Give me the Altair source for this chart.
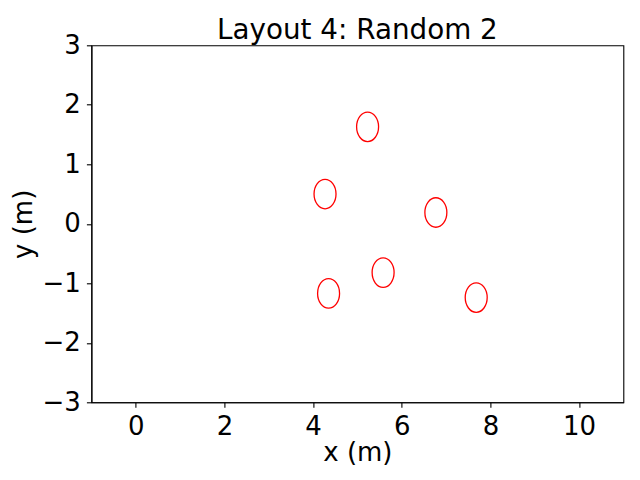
import altair as alt
import pandas as pd

# Turbine / object centers (m)
x_vals = [5.23, 4.27, 6.77, 5.58, 4.35, 7.68]
y_vals = [1.63, 0.50, 0.19, -0.82, -1.17, -1.24]

x_ticks = [0, 2, 4, 6, 8, 10]
y_ticks = [-3, -2, -1, 0, 1, 2, 3]

df = pd.DataFrame({"x": x_vals, "y": y_vals})

FONT = "DejaVu Sans"

# ellipse outline (circle of radius 0.25 m in data units, aspect of axes)
ellipse = "M 0.745 0 A 0.745 1 0 1 1 -0.745 0 A 0.745 1 0 1 1 0.745 0 Z"

chart = alt.Chart(df).mark_point(
    shape=ellipse, filled=False, stroke="red", strokeWidth=1.3, size=870, opacity=1
).encode(
    x=alt.X("x:Q", scale=alt.Scale(domain=[-1, 11], nice=False, zero=False),
            axis=alt.Axis(values=x_ticks, title="x (m)", grid=False, format="d")),
    y=alt.Y("y:Q", scale=alt.Scale(domain=[-3, 3], nice=False, zero=False),
            axis=alt.Axis(values=y_ticks, title="y (m)", grid=False, format="d")),
).properties(
    width=532, height=357,
    title=alt.TitleParams("Layout 4: Random 2", fontSize=27.8, font=FONT,
                          fontWeight="normal", color="black", anchor="middle",
                          frame="group", offset=-12),
    autosize=alt.AutoSizeParams(type="none"),
    padding={"left": 83.4, "top": 37.3, "right": 8, "bottom": 70},
).configure_view(
    stroke="black", strokeWidth=1.1
).configure_axis(
    domainColor="black", domainWidth=1.1, tickColor="black", tickWidth=1.1,
    tickSize=5, labelFont=FONT, labelFontSize=26, labelColor="black",
    titleFont=FONT, titleFontSize=26, titleFontWeight="normal", titleColor="black",
    labelPadding=6,
).configure_axisX(
    titlePadding=0, labelPadding=6
).configure_axisY(
    titlePadding=6
)

chart.save("out.html", embed_options={"renderer": "svg", "actions": False})
